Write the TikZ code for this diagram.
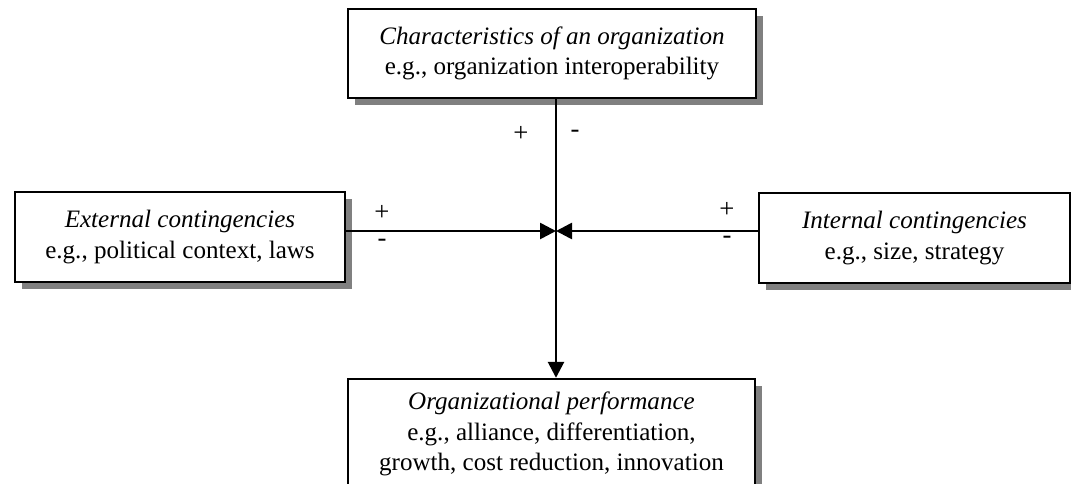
\documentclass[tikz,border=0pt]{standalone}
\usepackage{fontspec}
\setmainfont{Liberation Serif}
\usetikzlibrary{arrows.meta,shadows}
\begin{document}
\begin{tikzpicture}[x=0.75pt,y=-0.75pt,
  box/.style={draw=black, line width=1.8pt, fill=white, align=center,
    inner sep=0pt, font=\fontsize{18.8}{22.8}\selectfont,
    drop shadow={shadow xshift=5pt, shadow yshift=-5pt, fill=black!50, opacity=1}},
  conn/.style={line width=2pt, -{Triangle[length=12pt,width=12pt]}},
  sign/.style={font=\fontsize{20}{22}\selectfont, inner sep=0pt}]
\useasboundingbox (0,0) rectangle (1071,483);
\node[box, minimum width=306pt, minimum height=66.75pt] (top) at (552,53.5)
  {\textit{Characteristics of an organization}\\e.g., organization interoperability};
\node[box, minimum width=247.5pt, minimum height=67.5pt] (ext) at (180,237)
  {\textit{External contingencies}\\e.g., political context, laws};
\node[box, minimum width=233.25pt, minimum height=67.5pt] (int) at (914.5,238)
  {\textit{Internal contingencies}\\e.g., size, strategy};
\node[box, minimum width=305.25pt, minimum height=82.5pt] (perf) at (551.5,434)
  {\textit{Organizational performance}\\e.g., alliance, differentiation,\\growth, cost reduction, innovation};
\coordinate (c) at (556,231);
\draw[conn] (top.south -| c) -- (perf.north -| c);
\draw[conn] (ext.east |- c) -- (c);
\draw[conn] (int.west |- c) -- (c);
\node[sign] (tp) at (521,134) {+};
\node[sign] (tm) at (575,134) {-};
\node[sign] (lp) at (382,213) {+};
\node[sign] (lm) at (382,243) {-};
\node[sign] (rp) at (727,210) {+};
\node[sign] (rm) at (727,240) {-};
\end{tikzpicture}
\end{document}
